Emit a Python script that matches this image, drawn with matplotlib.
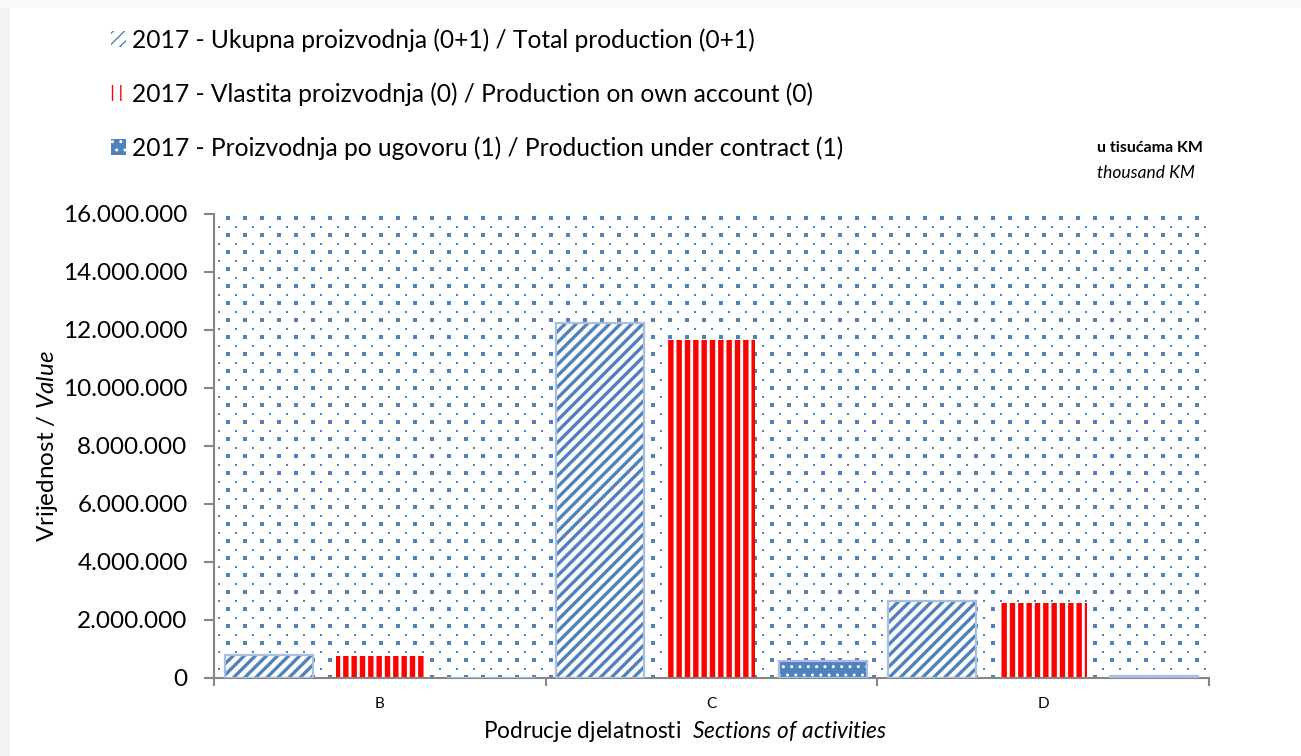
import numpy as np
import matplotlib
matplotlib.use("Agg")
import matplotlib.pyplot as plt
from matplotlib.patches import Patch, Rectangle

plt.rcParams['font.family'] = ['Lato', 'DejaVu Sans']
plt.rcParams['mathtext.fontset'] = 'custom'
plt.rcParams['mathtext.it'] = 'Lato:italic'
plt.rcParams['mathtext.rm'] = 'Lato'

# podaci (u tisucama KM)
categories = ['B', 'C', 'D']
total = [780000, 12240000, 2660000]
own = [770000, 11660000, 2590000]
contract = [12000, 590000, 80000]
series_labels = [
    '2017 - Ukupna proizvodnja (0+1) / Total production (0+1)',
    '2017 - Vlastita proizvodnja (0) / Production on own account (0)',
    '2017 - Proizvodnja po ugovoru (1) / Production under contract (1)',
]
yticks = np.arange(0, 16000001, 2000000)

blue = '#4F81BD'
light_blue = '#A7BFE3'
red = '#FF0000'
grey = '#868686'

W, H = 1301, 756
fig = plt.figure(figsize=(W / 100, H / 100), dpi=100)

# faint shadow on the left/top edge of the chart
fig.patches.append(Rectangle((0, 0), 10 / W, 1, transform=fig.transFigure,
                             facecolor='#F3F3F3', edgecolor='none', zorder=0))
fig.patches.append(Rectangle((0, 1 - 8 / H), 1, 8 / H, transform=fig.transFigure,
                             facecolor='#FAFAFA', edgecolor='none', zorder=0))

ax_l, ax_r, ax_t, ax_b = 214, 1209, 214, 678
ax = fig.add_axes([ax_l / W, (H - ax_b) / H, (ax_r - ax_l) / W, (ax_b - ax_t) / H])
aw, ah = ax_r - ax_l, ax_b - ax_t

# dotted background pattern (decoration)
step = 17.0
bx, by = np.meshgrid(np.arange(13.7, aw, step), np.arange(4.3, ah, step))
ax.scatter(bx.ravel() / aw, 1 - by.ravel() / ah, s=6, marker='s', color=blue,
           linewidths=0, transform=ax.transAxes, zorder=0)
sx, sy = np.meshgrid(np.arange(13.7 - step / 2, aw, step), np.arange(4.3 + step / 2, ah, step))
ax.scatter(sx.ravel() / aw, 1 - sy.ravel() / ah, s=3, marker='s', color=blue,
           linewidths=0, transform=ax.transAxes, zorder=0)

x = np.arange(len(categories))
w = 0.265
off = 0.335

styles = [
    dict(face='white', hcolor=blue, hatch='///', hlw=2.4, outline=light_blue),
    dict(face='white', hcolor=red, hatch='||', hlw=3.9, outline=None),
    dict(face=blue, hcolor='white', hatch='..', hlw=1.0, outline=light_blue),
]


def hatched(xpos, vals, st):
    with plt.rc_context({'hatch.linewidth': st['hlw']}):
        bars = ax.bar(xpos, vals, w, color=st['face'], edgecolor=st['hcolor'],
                      hatch=st['hatch'], linewidth=0, zorder=2)
        for b in bars:
            if hasattr(b, 'set_hatch_linewidth'):
                b.set_hatch_linewidth(st['hlw'])
        handle = Patch(facecolor=st['face'], edgecolor=st['hcolor'], hatch=st['hatch'], linewidth=0)
        if hasattr(handle, 'set_hatch_linewidth'):
            handle.set_hatch_linewidth(st['hlw'])
    if st['outline']:
        ax.bar(xpos, vals, w, fill=False, edgecolor=st['outline'], linewidth=1.6, zorder=3)
    return handle


handles = [
    hatched(x - off, total, styles[0]),
    hatched(x, own, styles[1]),
    hatched(x + off, contract, styles[2]),
]

ax.set_xlim(-0.5, 2.5)
ax.set_ylim(0, 16000000)
ax.set_yticks(yticks)
ax.set_yticklabels([f'{v:,}'.replace(',', '.') for v in yticks], fontsize=17.5)
ax.set_xticks(x)
ax.set_xticklabels(categories, fontsize=11)
ax.set_xticks([-0.5, 0.5, 1.5, 2.5], minor=True)
ax.tick_params(axis='x', which='major', length=0, pad=14)
ax.tick_params(axis='x', which='minor', length=6, color=grey, width=1.5)
ax.tick_params(axis='y', length=7, color=grey, width=1.5, pad=12)

for s in ['top', 'right']:
    ax.spines[s].set_visible(False)
for s in ['left', 'bottom']:
    ax.spines[s].set_color(grey)
    ax.spines[s].set_linewidth(1.5)

ax.set_ylabel('Vrijednost / $\\mathit{Value}$', fontsize=17.5)
ax.yaxis.set_label_coords(-(ax_l - 48) / aw, 0.5)
ax.yaxis.label.set_va('center')
ax.set_xlabel('Podrucje djelatnosti  $\\mathit{Sections\\ of\\ activities}$', fontsize=16.3)
ax.xaxis.set_label_coords((685 - ax_l) / aw, -(731 - ax_b) / ah)
ax.xaxis.label.set_va('center')

fig.text(1150 / W, 1 - 148 / H, 'u tisućama KM', fontsize=11.5, fontweight='bold',
         ha='center', va='center')
fig.text(1146 / W, 1 - 173 / H, 'thousand KM', fontsize=12.5, style='italic',
         ha='center', va='center')

fig.legend(handles, series_labels, loc='upper left', bbox_to_anchor=(99 / W, 1 - 16 / H),
           frameon=False, fontsize=17.7, handlelength=0.6, handleheight=0.6,
           handletextpad=0.25, labelspacing=1.23, borderpad=0)

fig.savefig('out.png', dpi=100)
